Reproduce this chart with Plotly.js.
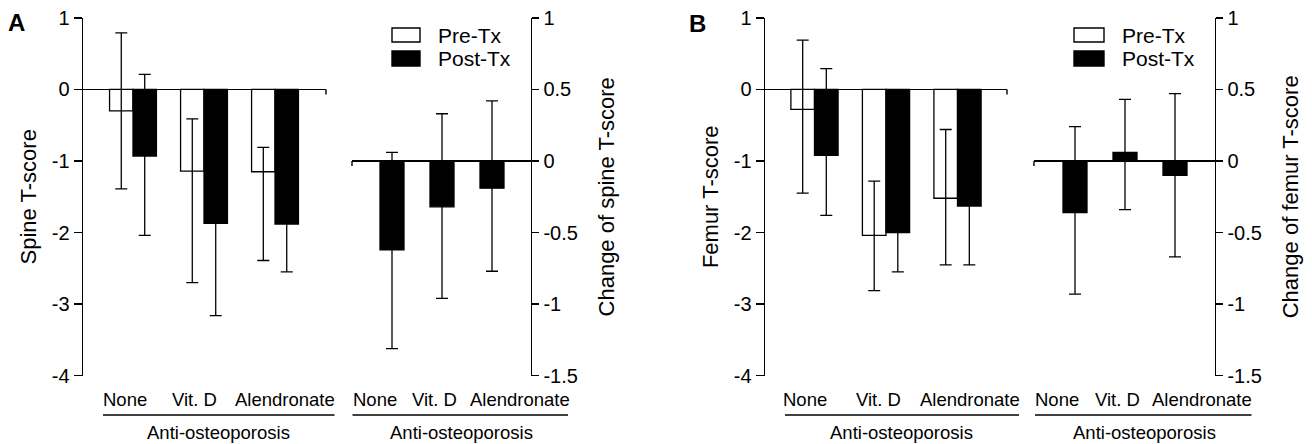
<!DOCTYPE html>
<html>
<head>
<meta charset="utf-8">
<script src="https://cdn.plot.ly/plotly-3.0.1.min.js"></script>
<style>html,body{margin:0;padding:0;background:#fff;}#chart{width:1312px;height:444px;}</style>
</head>
<body>
<div id="chart"></div>
<script>
// ---------------- data ----------------
const categories = ['None', 'Vit. D', 'Alendronate'];
const groupLabel = 'Anti-osteoporosis';
const seriesNames = ['Pre-Tx', 'Post-Tx'];

// tick labels
const scoreTicks = [1, 0, -1, -2, -3, -4];
const scoreTickText = ['1', '0', '-1', '-2', '-3', '-4'];
const changeTicks = [1, 0.5, 0, -0.5, -1, -1.5];
const changeTickText = ['1', '0.5', '0', '-0.5', '-1', '-1.5'];

// Panel A: spine
const spinePre = [-0.30, -1.14, -1.15];
const spinePreErrUp = [1.09, 0.73, 0.34];
const spinePreErrDown = [1.09, 1.56, 1.24];
const spinePost = [-0.93, -1.87, -1.88];
const spinePostErrUp = [1.14, 1.29, 0.67];
const spinePostErrDown = [1.11, 1.29, 0.67];
const spineChange = [-0.62, -0.32, -0.19];
const spineChangeErrUp = [0.68, 0.65, 0.61];
const spineChangeErrDown = [0.69, 0.64, 0.58];

// Panel B: femur
const femurPre = [-0.28, -2.04, -1.52];
const femurPreErrUp = [0.97, 0.76, 0.96];
const femurPreErrDown = [1.17, 0.77, 0.93];
const femurPost = [-0.92, -2.00, -1.63];
const femurPostErrUp = [1.21, 0.55, 0.82];
const femurPostErrDown = [0.84, 0.55, 0.82];
const femurChange = [-0.36, 0.06, -0.10];
const femurChangeErrUp = [0.60, 0.37, 0.57];
const femurChangeErrDown = [0.57, 0.40, 0.57];

const yTitles = ['Spine T-score', 'Change of spine T-score', 'Femur T-score', 'Change of femur T-score'];
const panelLetters = ['A', 'B'];

// ---------------- helpers ----------------
const W = 1312, H = 444;
const px = v => v / W;
const py = v => 1 - v / H;
const FONT = '"Liberation Sans", Arial, Helvetica, sans-serif';

function errBar(up, down) {
  return {type: 'data', symmetric: false, array: up, arrayminus: down,
          color: '#000', thickness: 1.3, width: 6, visible: true};
}
function barTrace(name, y, up, down, xa, ya, fill, offset, width) {
  return {
    type: 'bar', name: name, x: categories, y: y,
    xaxis: xa, yaxis: ya, offset: offset, width: width,
    marker: {color: fill, line: {color: '#000', width: 1.3}},
    error_y: errBar(up, down), showlegend: false, hoverinfo: 'x+y'
  };
}

const data = [
  barTrace(seriesNames[0], spinePre, spinePreErrUp, spinePreErrDown, 'x', 'y', '#fff', -0.33, 0.33),
  barTrace(seriesNames[1], spinePost, spinePostErrUp, spinePostErrDown, 'x', 'y', '#000', 0, 0.33),
  barTrace(seriesNames[1], spineChange, spineChangeErrUp, spineChangeErrDown, 'x2', 'y2', '#000', -0.24, 0.48),
  barTrace(seriesNames[0], femurPre, femurPreErrUp, femurPreErrDown, 'x3', 'y3', '#fff', -0.33, 0.33),
  barTrace(seriesNames[1], femurPost, femurPostErrUp, femurPostErrDown, 'x3', 'y3', '#000', 0, 0.33),
  barTrace(seriesNames[1], femurChange, femurChangeErrUp, femurChangeErrDown, 'x4', 'y4', '#000', -0.24, 0.48)
];

const yDomain = [py(375.75), py(17.85)];
function xAx(d0, d1, r0, r1, anchor) {
  return {domain: [px(d0), px(d1)], range: [r0, r1], type: 'category', anchor: anchor,
          showline: false, showticklabels: false, ticks: '', showgrid: false, zeroline: false, fixedrange: true};
}
function yAx(range, vals, text, anchor, side, title, standoff, ticklen) {
  return {domain: yDomain, range: range, tickmode: 'array', tickvals: vals, ticktext: text,
          anchor: anchor, side: side,
          showline: true, linecolor: '#000', linewidth: 1.4,
          ticks: 'outside', ticklen: ticklen, tickwidth: 1.4, tickcolor: '#000',
          showgrid: false, zeroline: true, zerolinecolor: '#000', zerolinewidth: 1.8,
          tickfont: {size: 20, color: '#000'},
          title: {text: title, font: {size: 22, color: '#000'}, standoff: standoff},
          fixedrange: true};
}

const shapes = [];
const annotations = [];
const line = {color: '#000', width: 1.4};

// underlines beneath category labels
[[103, 334.5], [352.5, 568], [785, 1019], [1035, 1251.5]].forEach(([a, b]) => {
  shapes.push({type: 'line', xref: 'paper', yref: 'paper', x0: px(a), x1: px(b), y0: py(415), y1: py(415), line: line});
});
// small end ticks of the zero lines
shapes.push({type: 'line', xref: 'x domain', yref: 'y', x0: 1, x1: 1, y0: 0, y1: -0.07, line: line});
shapes.push({type: 'line', xref: 'x2 domain', yref: 'y2', x0: 0, x1: 0, y0: 0, y1: -0.035, line: line});
shapes.push({type: 'line', xref: 'x3 domain', yref: 'y3', x0: 1, x1: 1, y0: 0, y1: -0.07, line: line});
shapes.push({type: 'line', xref: 'x4 domain', yref: 'y4', x0: 0, x1: 0, y0: 0, y1: -0.035, line: line});

// category labels (per subplot, shifted as in the original)
const labelShifts = {
  x: [-8, -10, 10], x2: [-17, -7.5, 28], x3: [-9.5, -7.6, 12.2], x4: [-17.7, -8, 26.8]
};
Object.keys(labelShifts).forEach(xa => {
  categories.forEach((c, i) => {
    annotations.push({xref: xa, yref: 'paper', x: c, y: py(399), xshift: labelShifts[xa][i],
      text: c, showarrow: false, font: {size: 18.5, color: '#000'}, xanchor: 'center', yanchor: 'middle'});
  });
});
// group labels
[218, 461, 901, 1144].forEach(cx => {
  annotations.push({xref: 'paper', yref: 'paper', x: px(cx), y: py(432), text: groupLabel,
    showarrow: false, font: {size: 18.5, color: '#000'}, xanchor: 'center', yanchor: 'middle'});
});
// panel letters
annotations.push({xref: 'paper', yref: 'paper', x: px(16), y: py(22), text: '<b>' + panelLetters[0] + '</b>',
  showarrow: false, font: {size: 24, color: '#000'}, xanchor: 'center', yanchor: 'middle'});
annotations.push({xref: 'paper', yref: 'paper', x: px(697), y: py(23), text: '<b>' + panelLetters[1] + '</b>',
  showarrow: false, font: {size: 24, color: '#000'}, xanchor: 'center', yanchor: 'middle'});

// custom legends
[[392, 420, 436], [1074, 1104, 1120]].forEach(([b0, b1, tx]) => {
  shapes.push({type: 'rect', xref: 'paper', yref: 'paper', x0: px(b0), x1: px(b1), y0: py(42), y1: py(28),
    fillcolor: '#fff', line: line});
  shapes.push({type: 'rect', xref: 'paper', yref: 'paper', x0: px(b0), x1: px(b1), y0: py(66), y1: py(51),
    fillcolor: '#000', line: line});
  annotations.push({xref: 'paper', yref: 'paper', x: px(tx), y: py(35.5), text: seriesNames[0], showarrow: false,
    font: {size: 21, color: '#000'}, xanchor: 'left', yanchor: 'middle'});
  annotations.push({xref: 'paper', yref: 'paper', x: px(tx), y: py(58.5), text: seriesNames[1], showarrow: false,
    font: {size: 21, color: '#000'}, xanchor: 'left', yanchor: 'middle'});
});

const layout = {
  width: W, height: H,
  margin: {l: 0, r: 0, t: 0, b: 0, pad: 0},
  paper_bgcolor: '#fff', plot_bgcolor: 'rgba(0,0,0,0)',
  font: {family: FONT, color: '#000'},
  barmode: 'overlay',
  showlegend: false,
  xaxis: xAx(83, 326, -0.704, 2.718, 'y'),
  yaxis: yAx([-4, 1], scoreTicks, scoreTickText, 'x', 'left', yTitles[0], 9, 8),
  xaxis2: xAx(352, 531, -0.8, 2.78, 'y2'),
  yaxis2: yAx([-1.5, 1], changeTicks, changeTickText, 'x2', 'right', yTitles[1], 21, 7),
  xaxis3: xAx(765, 1007, -0.692, 2.692, 'y3'),
  yaxis3: yAx([-4, 1], scoreTicks, scoreTickText, 'x3', 'left', yTitles[2], 9, 8),
  xaxis4: xAx(1034, 1215, -0.82, 2.8, 'y4'),
  yaxis4: yAx([-1.5, 1], changeTicks, changeTickText, 'x4', 'right', yTitles[3], 21, 7),
  shapes: shapes,
  annotations: annotations
};

Plotly.newPlot('chart', data, layout, {staticPlot: true, displayModeBar: false});
</script>
</body>
</html>
